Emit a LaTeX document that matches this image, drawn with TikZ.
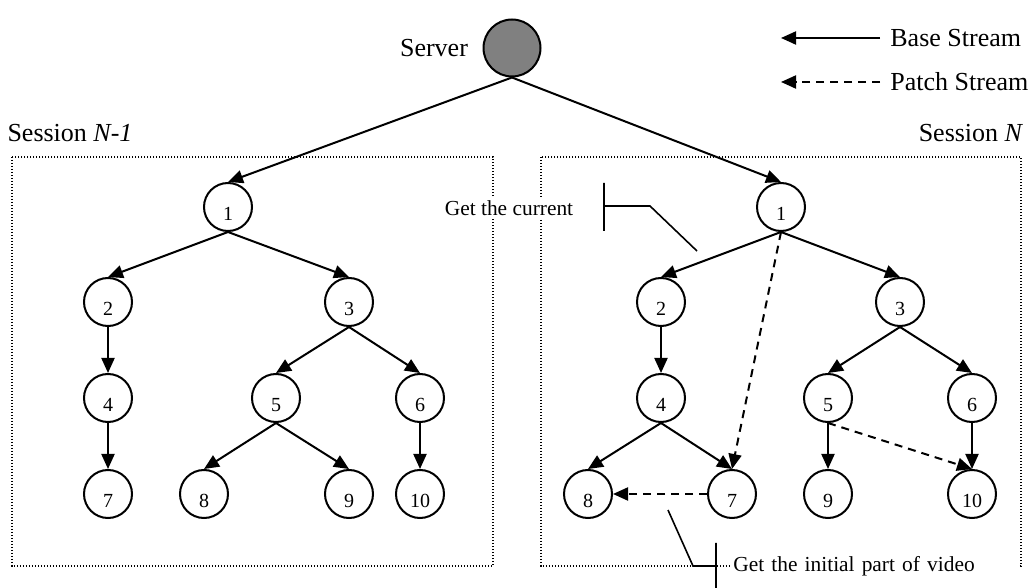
\documentclass[tikz,border=0pt]{standalone}
\usepackage{fontspec}
\setmainfont{Liberation Serif}
\usetikzlibrary{arrows.meta,positioning}
\tikzset{peer/.style={circle,draw,line width=1pt,minimum size=24pt,inner sep=0pt,
                      text height=14pt,text depth=0pt,font=\fontsize{10}{12}\selectfont},
         server/.style={peer,fill=gray,minimum size=28.5pt},
         base/.style={line width=1pt,-{Triangle[length=7.5pt,width=6.5pt]}},
         patch/.style={base,dash pattern=on 4pt off 3pt},
         session/.style={draw,line width=0.7pt,dash pattern=on 0.7pt off 0.8pt},
         lbl/.style={font=\fontsize{13}{15}\selectfont},
         note/.style={fill=white,inner sep=1pt,font=\fontsize{10.7}{13}\selectfont},
         callout/.style={line width=0.8pt}
        }

\begin{document}
\begin{tikzpicture}[x=0.5pt,y=-0.5pt]
\useasboundingbox (0,0) rectangle (1035,588);
\draw[session] (12,157) rectangle (493,566);
\draw[session] (541,157) rectangle (1021,566);
\node[lbl] (sessold) at (70,133) {Session \textit{N-1}};
\node[lbl] (sessnew) at (971,133) {Session \textit{N}};

\node[server] (srv) at (512,48) {};
\node[lbl] (srvtxt) at (434,48) {Server};

\node[lbl,anchor=west,inner sep=5pt] (basetxt) at (880,38) {Base Stream};
\node[lbl,anchor=west,inner sep=5pt] (patchtxt) at (880,82) {Patch Stream};
\coordinate (baseend) at (781,38);
\coordinate (patchend) at (781,82);
\draw[base] (basetxt.west) -- (baseend);
\draw[patch] (patchtxt.west) -- (patchend);

\node[peer] (a1) at (228,207) {1};
\node[peer] (a2) at (108,302) {2};
\node[peer] (a3) at (349,302) {3};
\node[peer] (a4) at (108,398) {4};
\node[peer] (a5) at (276,398) {5};
\node[peer] (a6) at (420,398) {6};
\node[peer] (a7) at (108,494) {7};
\node[peer] (a8) at (204,494) {8};
\node[peer] (a9) at (349,494) {9};
\node[peer] (a10) at (420,494) {10};

\node[peer] (b1) at (781,207) {1};
\node[peer] (b2) at (661,302) {2};
\node[peer] (b3) at (900,302) {3};
\node[peer] (b4) at (661,398) {4};
\node[peer] (b5) at (828,398) {5};
\node[peer] (b6) at (972,398) {6};
\node[peer] (b8) at (588,494) {8};
\node[peer] (b7) at (732,494) {7};
\node[peer] (b9) at (828,494) {9};
\node[peer] (b10) at (972,494) {10};

\foreach \from/\to in {srv/a1,srv/b1,a1/a2,a1/a3,a2/a4,a4/a7,a3/a5,a3/a6,a5/a8,a5/a9,a6/a10,
                       b1/b2,b1/b3,b2/b4,b4/b8,b4/b7,b3/b5,b3/b6,b5/b9,b6/b10}
  \draw[base] (\from.south) -- (\to.north);
\draw[patch] (b1.south) -- (b7.north);
\draw[patch] (b5.south) -- (b10.north);
\draw[patch] (b7.west) -- (b8.east);

\node[note] (current) at (509,208) {Get the current};
\coordinate (curtop) at (604,183);
\coordinate (curbot) at (604,231);
\coordinate (curmid) at (604,206);
\coordinate (curknee) at (650,206);
\coordinate (curend) at (697,251);
\draw[callout] (curtop) -- (curbot) (curmid) -- (curknee) -- (curend);

\node[note,anchor=west,text width=142pt] (initial) at (731,566) {Get the initial part of video};
\coordinate (initop) at (716,543);
\coordinate (inibot) at (716,588);
\coordinate (inimid) at (716,566);
\coordinate (iniknee) at (693,566);
\coordinate (iniend) at (668,510);
\draw[callout] (initop) -- (inibot) (inimid) -- (iniknee) -- (iniend);
\end{tikzpicture}
\end{document}
